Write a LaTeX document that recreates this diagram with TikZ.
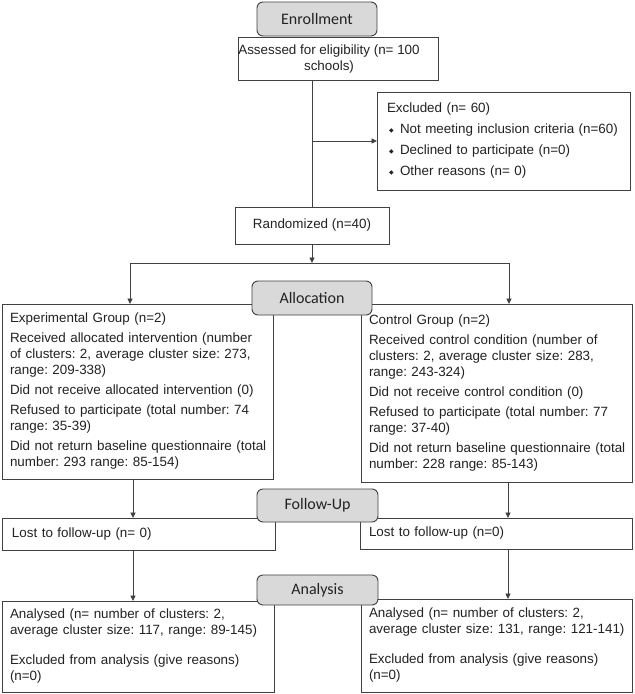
\documentclass[tikz,border=0pt]{standalone}
\usepackage{fontspec}
\setmainfont{Liberation Sans}
\newfontfamily\headfont{Carlito}
\newfontfamily\symfont{DejaVu Sans}
\usetikzlibrary{arrows.meta}
\definecolor{edge}{HTML}{404040}
\definecolor{headfill}{HTML}{D9D9D9}
\definecolor{txt}{HTML}{222222}
\newcommand{\cbul}{\makebox[13pt][l]{\hspace{2pt}\raisebox{1pt}{\symfont\fontsize{6}{6}\selectfont ◆}}}
\newcommand{\oneline}[1]{\mbox{#1}}
\frenchspacing
\begin{document}
\begin{tikzpicture}[x=1pt,y=-1pt,
  font=\fontsize{13.4}{16}\selectfont, text=txt,
  box/.style={draw=edge, line width=0.9pt, fill=white, inner sep=0pt, outer sep=0pt},
  tbox/.style={box, align=left, inner xsep=9pt},
  head/.style={draw=edge, line width=0.9pt, fill=headfill, rounded corners=6pt,
    inner sep=0pt, outer sep=0pt, font=\headfont\fontsize{16}{18}\selectfont},
  line/.style={draw=edge, line width=0.9pt},
  arr/.style={line, -{Triangle[length=5.5pt,width=5pt]}}]
\fill[white] (0,0) rectangle (635,694);
\useasboundingbox (0,0) rectangle (635,694);

% Enrollment
\node[box, minimum width=200pt, minimum height=43pt] (assess) at (338,58.5) {};
\node[align=center, inner sep=0pt] (assesstxt) at (329,59) {Assessed for eligibility (n= 100\\schools)};
\node[head, minimum width=120pt, minimum height=34pt] (enroll) at (317,19) {Enrollment};

\node[box, minimum width=253pt, minimum height=98pt, text width=233pt, inner xsep=10pt, align=left] (excl) at (503.5,141)
  {Excluded (n= 60)\\[5pt]\oneline{\cbul Not meeting inclusion criteria (n=60)}\\[5pt]\cbul Declined to participate (n=0)\\[5pt]\cbul Other reasons (n= 0)};

\node[box, minimum width=154pt, minimum height=37pt] (rand) at (312,225.5) {Randomized (n=40)};

% Allocation
\node[tbox, minimum width=271pt, minimum height=175pt, text width=255pt, inner xsep=8pt] (exp) at (137.5,391.5)
  {\oneline{Experimental Group (n=2)}\\[4pt]
   \oneline{Received allocated intervention (number}\\\oneline{of clusters: 2, average cluster size: 273,}\\\oneline{range: 209-338)}\\[4pt]
   \oneline{Did not receive allocated intervention (0)}\\[4pt]
   \oneline{Refused to participate (total number: 74}\\\oneline{range: 35-39)}\\[4pt]
   \oneline{Did not return baseline questionnaire (total}\\\oneline{number: 293 range: 85-154)}};
\node[tbox, minimum width=271pt, minimum height=178pt, text width=255pt, inner xsep=8pt] (ctrl) at (496.5,393)
  {\oneline{Control Group (n=2)}\\[4pt]
   \oneline{Received control condition (number of}\\\oneline{clusters: 2, average cluster size: 283,}\\\oneline{range: 243-324)}\\[4pt]
   \oneline{Did not receive control condition (0)}\\[4pt]
   \oneline{Refused to participate (total number: 77}\\\oneline{range: 37-40)}\\[4pt]
   \oneline{Did not return baseline questionnaire (total}\\\oneline{number: 228 range: 85-143)}};
\node[head, minimum width=120pt, minimum height=34pt] (alloc) at (312,298) {Allocation};

% Follow-up
\node[tbox, minimum width=273pt, minimum height=32pt, text width=253pt, inner xsep=10pt] (lostL) at (138.5,534) {Lost to follow-up (n= 0)};
\node[tbox, minimum width=272pt, minimum height=31pt, text width=254pt] (lostR) at (496,533.5) {Lost to follow-up (n=0)};
\node[head, minimum width=121pt, minimum height=33pt] (follow) at (317.5,505.5) {Follow-Up};

% Analysis
\node[tbox, minimum width=272pt, minimum height=91pt, text width=256pt, inner xsep=8pt] (anL) at (138,646.5)
  {\oneline{Analysed (n= number of clusters: 2,}\\\oneline{average cluster size: 117, range: 89-145)}\\[14pt]
   \oneline{Excluded from analysis (give reasons)}\\(n=0)};
\node[tbox, minimum width=271pt, minimum height=93pt, text width=255pt, inner xsep=8pt] (anR) at (496.5,645.5)
  {\oneline{Analysed (n= number of clusters: 2,}\\\oneline{average cluster size: 131, range: 121-141)}\\[14pt]
   \oneline{Excluded from analysis (give reasons)}\\(n=0)};
\node[head, minimum width=121pt, minimum height=30pt] (analysis) at (317.5,590) {Analysis};

% connectors
\draw[line] (assess.south -| rand.north) -- (rand.north);
\draw[arr] (excl.west -| rand.north) -- (excl.west);
\coordinate (bl) at (130,263);
\coordinate (br) at (509,263);
\draw[arr] (rand.south) -- (rand.south |- bl);
\draw[line] (bl) -- (br);
\draw[arr] (bl) -- (bl |- exp.north);
\draw[arr] (br) -- (br |- ctrl.north);
\coordinate (cl) at (133,0);
\coordinate (cr) at (508,0);
\draw[arr] (cl |- exp.south) -- (cl |- lostL.north);
\draw[arr] (cr |- ctrl.south) -- (cr |- lostR.north);
\draw[arr] (cl |- lostL.south) -- (cl |- anL.north);
\draw[arr] (cr |- lostR.south) -- (cr |- anR.north);
\end{tikzpicture}
\end{document}
